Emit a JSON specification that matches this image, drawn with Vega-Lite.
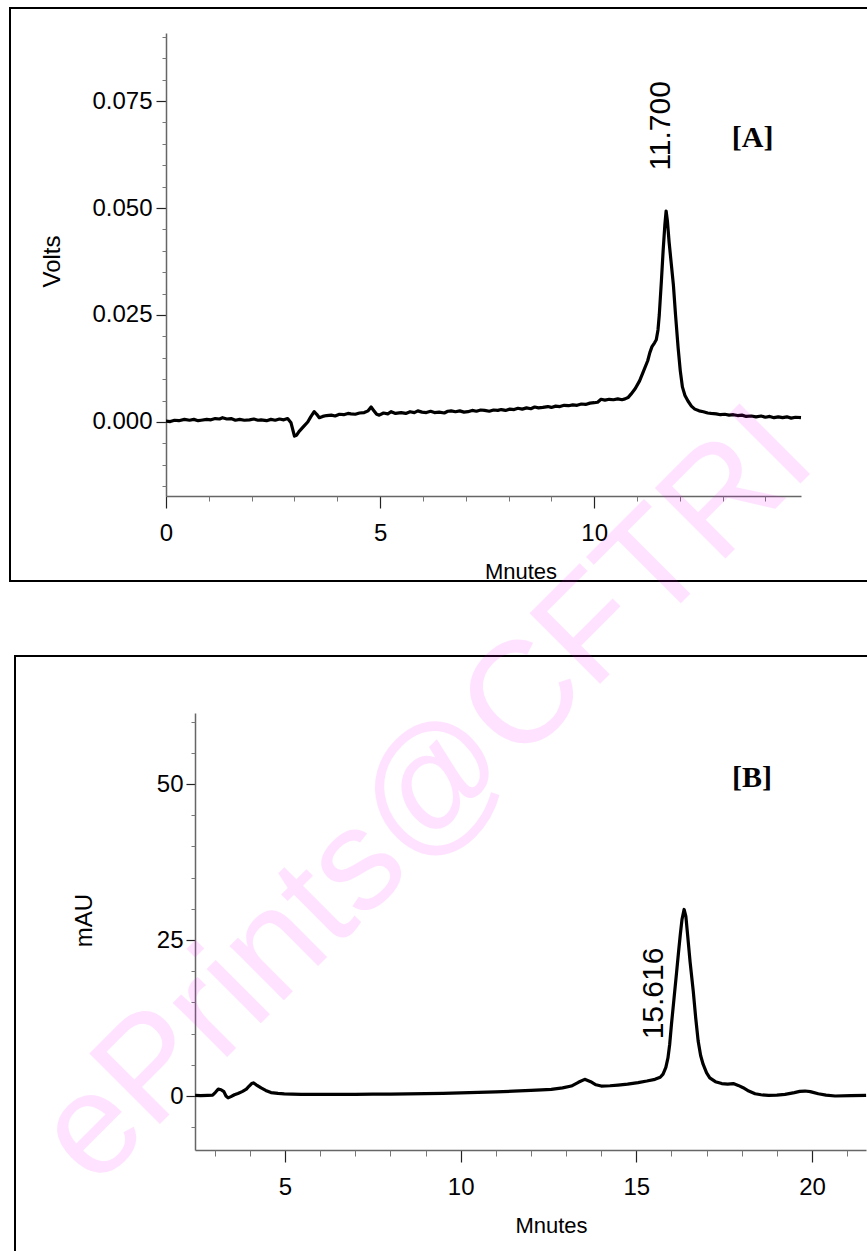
{
  "$schema": "https://vega.github.io/schema/vega-lite/v6.json",
  "padding": {"left": 9, "top": 7, "right": 0, "bottom": 0},
  "background": "white",
  "spacing": 75,
  "bounds": "flush",
  "center": true,
  "config": {
    "view": {"stroke": "black", "strokeWidth": 2},
    "font": "Liberation Sans",
    "axis": {"grid": false, "labelColor": "black", "titleColor": "black", "labelFlush": false, "labelOverlap": false, "titleFontWeight": "normal"}
  },
  "vconcat": [
    {
      "width": 868,
      "height": 573,
      "resolve": {"axis": {"x": "independent", "y": "independent"}},
      "layer": [
        {
          "data": {"values": [
            {"t": 0.0, "v": 0.0002}, {"t": 0.1, "v": 0.0001}, {"t": 0.2, "v": 0.0004}, {"t": 0.3, "v": 0.0003}, {"t": 0.43, "v": 0.0006},
            {"t": 0.55, "v": 0.0004}, {"t": 0.65, "v": 0.0006}, {"t": 0.75, "v": 0.0003}, {"t": 0.82, "v": 0.0004}, {"t": 0.95, "v": 0.0006},
            {"t": 1.05, "v": 0.0005}, {"t": 1.15, "v": 0.0008}, {"t": 1.25, "v": 0.0007}, {"t": 1.32, "v": 0.001}, {"t": 1.42, "v": 0.0007},
            {"t": 1.52, "v": 0.0008}, {"t": 1.62, "v": 0.0004}, {"t": 1.72, "v": 0.0006}, {"t": 1.83, "v": 0.0004}, {"t": 1.95, "v": 0.0005},
            {"t": 2.05, "v": 0.0007}, {"t": 2.15, "v": 0.0004}, {"t": 2.22, "v": 0.0005}, {"t": 2.35, "v": 0.0003}, {"t": 2.45, "v": 0.0006},
            {"t": 2.55, "v": 0.0004}, {"t": 2.65, "v": 0.0007}, {"t": 2.75, "v": 0.0005}, {"t": 2.84, "v": 0.0008}, {"t": 2.92, "v": -0.0002},
            {"t": 3.0, "v": -0.0033}, {"t": 3.05, "v": -0.0031}, {"t": 3.11, "v": -0.0022}, {"t": 3.2, "v": -0.0012}, {"t": 3.31, "v": 0.0},
            {"t": 3.38, "v": 0.0012}, {"t": 3.46, "v": 0.0024}, {"t": 3.52, "v": 0.0018}, {"t": 3.58, "v": 0.001}, {"t": 3.66, "v": 0.0013},
            {"t": 3.75, "v": 0.0015}, {"t": 3.86, "v": 0.0016}, {"t": 3.95, "v": 0.0014}, {"t": 4.05, "v": 0.0018}, {"t": 4.15, "v": 0.0017},
            {"t": 4.25, "v": 0.002}, {"t": 4.32, "v": 0.0019}, {"t": 4.42, "v": 0.0018}, {"t": 4.52, "v": 0.0021}, {"t": 4.63, "v": 0.0022},
            {"t": 4.72, "v": 0.0026}, {"t": 4.79, "v": 0.0035}, {"t": 4.85, "v": 0.0027}, {"t": 4.92, "v": 0.0018}, {"t": 4.98, "v": 0.0016},
            {"t": 5.08, "v": 0.0021}, {"t": 5.18, "v": 0.0019}, {"t": 5.26, "v": 0.0024}, {"t": 5.36, "v": 0.002}, {"t": 5.49, "v": 0.0022},
            {"t": 5.6, "v": 0.002}, {"t": 5.7, "v": 0.0024}, {"t": 5.8, "v": 0.0022}, {"t": 5.88, "v": 0.0026}, {"t": 5.98, "v": 0.0023},
            {"t": 6.08, "v": 0.0022}, {"t": 6.18, "v": 0.0025}, {"t": 6.27, "v": 0.0022}, {"t": 6.38, "v": 0.0023}, {"t": 6.5, "v": 0.0021},
            {"t": 6.58, "v": 0.0025}, {"t": 6.66, "v": 0.0026}, {"t": 6.76, "v": 0.0024}, {"t": 6.86, "v": 0.0026}, {"t": 6.96, "v": 0.0023},
            {"t": 7.05, "v": 0.0024}, {"t": 7.15, "v": 0.0027}, {"t": 7.25, "v": 0.0025}, {"t": 7.35, "v": 0.0028}, {"t": 7.44, "v": 0.0027},
            {"t": 7.55, "v": 0.0025}, {"t": 7.65, "v": 0.0028}, {"t": 7.75, "v": 0.0027}, {"t": 7.83, "v": 0.0029}, {"t": 7.93, "v": 0.0027},
            {"t": 8.03, "v": 0.003}, {"t": 8.13, "v": 0.0029}, {"t": 8.22, "v": 0.0032}, {"t": 8.32, "v": 0.003}, {"t": 8.42, "v": 0.0033},
            {"t": 8.52, "v": 0.0031}, {"t": 8.61, "v": 0.0035}, {"t": 8.7, "v": 0.0033}, {"t": 8.8, "v": 0.0034}, {"t": 8.92, "v": 0.0036},
            {"t": 9.0, "v": 0.0034}, {"t": 9.1, "v": 0.0037}, {"t": 9.2, "v": 0.0036}, {"t": 9.3, "v": 0.0039}, {"t": 9.4, "v": 0.0038},
            {"t": 9.5, "v": 0.004}, {"t": 9.6, "v": 0.0039}, {"t": 9.7, "v": 0.0042}, {"t": 9.8, "v": 0.0041}, {"t": 9.9, "v": 0.0044},
            {"t": 10.0, "v": 0.0045}, {"t": 10.08, "v": 0.0046}, {"t": 10.16, "v": 0.0053}, {"t": 10.25, "v": 0.0051}, {"t": 10.35, "v": 0.0053},
            {"t": 10.45, "v": 0.0052}, {"t": 10.55, "v": 0.0054}, {"t": 10.65, "v": 0.0052}, {"t": 10.72, "v": 0.0054}, {"t": 10.79, "v": 0.0057},
            {"t": 10.86, "v": 0.0065}, {"t": 10.96, "v": 0.0078}, {"t": 11.06, "v": 0.0096}, {"t": 11.15, "v": 0.0118}, {"t": 11.25, "v": 0.0143},
            {"t": 11.3, "v": 0.0162}, {"t": 11.35, "v": 0.0176}, {"t": 11.41, "v": 0.0185}, {"t": 11.45, "v": 0.0192}, {"t": 11.49, "v": 0.0215},
            {"t": 11.52, "v": 0.025}, {"t": 11.57, "v": 0.033}, {"t": 11.61, "v": 0.04}, {"t": 11.65, "v": 0.046}, {"t": 11.68, "v": 0.0493},
            {"t": 11.71, "v": 0.047}, {"t": 11.75, "v": 0.042}, {"t": 11.8, "v": 0.037}, {"t": 11.85, "v": 0.032}, {"t": 11.9, "v": 0.025},
            {"t": 11.96, "v": 0.0174}, {"t": 12.01, "v": 0.012}, {"t": 12.06, "v": 0.0082}, {"t": 12.12, "v": 0.0062}, {"t": 12.19, "v": 0.0049},
            {"t": 12.27, "v": 0.0037}, {"t": 12.35, "v": 0.003}, {"t": 12.45, "v": 0.0026}, {"t": 12.55, "v": 0.0024}, {"t": 12.65, "v": 0.0021},
            {"t": 12.73, "v": 0.002}, {"t": 12.85, "v": 0.0019}, {"t": 12.95, "v": 0.0017}, {"t": 13.05, "v": 0.0018}, {"t": 13.15, "v": 0.0016},
            {"t": 13.25, "v": 0.0017}, {"t": 13.35, "v": 0.0015}, {"t": 13.45, "v": 0.0016}, {"t": 13.55, "v": 0.0013}, {"t": 13.67, "v": 0.0014},
            {"t": 13.78, "v": 0.0012}, {"t": 13.9, "v": 0.0014}, {"t": 14.0, "v": 0.0011}, {"t": 14.1, "v": 0.0013}, {"t": 14.2, "v": 0.001},
            {"t": 14.3, "v": 0.0012}, {"t": 14.4, "v": 0.001}, {"t": 14.5, "v": 0.0012}, {"t": 14.6, "v": 0.0009}, {"t": 14.7, "v": 0.0011},
            {"t": 14.83, "v": 0.001}
          ]},
          "mark": {"type": "line", "color": "black", "strokeWidth": 3.2, "strokeJoin": "round"},
          "encoding": {
            "x": {"field": "t", "type": "quantitative",
              "scale": {"domain": [0, 14.83], "range": [156, 791], "nice": false, "zero": false},
              "axis": {"orient": "bottom", "offset": -85, "values": [0, 5, 10], "tickSize": 12, "tickColor": "#222", "tickWidth": 1.2,
                "domainColor": "#666", "domainWidth": 1.5, "labelFont": "Liberation Sans", "labelFontSize": 24, "labelPadding": 13,
                "title": "Mnutes", "titleFont": "Liberation Sans", "titleFontSize": 22, "titleX": 510.5, "titleY": 82,
                "titleBaseline": "alphabetic", "titleAlign": "center", "titleAngle": 0}},
            "y": {"field": "v", "type": "quantitative",
              "scale": {"domain": [-0.0173, 0.0909], "range": [488, 25], "nice": false, "zero": false},
              "axis": {"orient": "left", "offset": -156, "values": [0, 0.025, 0.05, 0.075], "format": ".3f", "tickSize": 10, "tickColor": "#222", "tickWidth": 1.2,
                "domainColor": "#666", "domainWidth": 1.5, "labelFont": "Liberation Sans", "labelFontSize": 24, "labelPadding": 4,
                "title": "Volts", "titleFont": "Liberation Sans", "titleFontSize": 24, "titleX": -114, "titleY": 253,
                "titleAngle": 270, "titleBaseline": "middle", "titleAlign": "center"}}
          }
        },
        {
          "data": {"values": [{"t": 11.57, "v": 0.0692, "label": "11.700"}]},
          "mark": {"type": "text", "angle": 270, "fontSize": 30, "font": "Liberation Sans", "align": "center", "baseline": "middle", "color": "black"},
          "encoding": {
            "x": {"field": "t", "type": "quantitative",
              "axis": {"orient": "bottom", "offset": -85, "values": [1, 2, 3, 4, 6, 7, 8, 9, 11, 12, 13, 14], "tickSize": 5, "tickColor": "#777",
                "labels": false, "domain": false, "title": null}},
            "y": {"field": "v", "type": "quantitative",
              "axis": {"orient": "left", "offset": -156, "values": [-0.015, -0.01, -0.005, 0.005, 0.01, 0.015, 0.02, 0.03, 0.035, 0.04, 0.045, 0.055, 0.06, 0.065, 0.07, 0.08, 0.085, 0.09],
                "tickSize": 4, "tickColor": "#777", "labels": false, "domain": false, "title": null}},
            "text": {"field": "label"}
          }
        },
        {
          "data": {"values": [{"t": 13.7, "v": 0.0664, "label": "[A]"}]},
          "mark": {"type": "text", "fontSize": 30, "font": "Liberation Serif", "fontWeight": "bold", "align": "center", "baseline": "middle", "color": "black"},
          "encoding": {
            "x": {"field": "t", "type": "quantitative", "axis": null},
            "y": {"field": "v", "type": "quantitative", "axis": null},
            "text": {"field": "label"}
          }
        }
      ]
    },
    {
      "width": 858,
      "height": 600,
      "resolve": {"axis": {"x": "independent", "y": "independent"}},
      "layer": [
        {
          "data": {"values": [{"t": 9.01, "v": 48.1, "label": "ePrints@CFTRI"}]},
          "mark": {"type": "text", "angle": 315, "fontSize": 145, "font": "Liberation Sans", "align": "center", "baseline": "middle", "color": "#ff00ff", "opacity": 0.11},
          "encoding": {
            "x": {"field": "t", "type": "quantitative", "axis": null},
            "y": {"field": "v", "type": "quantitative", "axis": null},
            "text": {"field": "label"}
          }
        },
        {
          "data": {"values": [
            {"t": 2.44, "v": 0.1}, {"t": 2.6, "v": 0.05}, {"t": 2.8, "v": 0.1}, {"t": 2.94, "v": 0.15}, {"t": 3.02, "v": 0.6},
            {"t": 3.1, "v": 1.1}, {"t": 3.18, "v": 1.0}, {"t": 3.26, "v": 0.7}, {"t": 3.32, "v": 0.0}, {"t": 3.38, "v": -0.3},
            {"t": 3.46, "v": -0.1}, {"t": 3.56, "v": 0.2}, {"t": 3.66, "v": 0.4}, {"t": 3.78, "v": 0.7}, {"t": 3.9, "v": 1.1},
            {"t": 3.98, "v": 1.6}, {"t": 4.05, "v": 2.0}, {"t": 4.1, "v": 2.1}, {"t": 4.18, "v": 1.8}, {"t": 4.32, "v": 1.3},
            {"t": 4.45, "v": 0.9}, {"t": 4.6, "v": 0.55}, {"t": 4.8, "v": 0.42}, {"t": 4.98, "v": 0.35}, {"t": 5.2, "v": 0.3},
            {"t": 5.46, "v": 0.27}, {"t": 6.0, "v": 0.25}, {"t": 6.5, "v": 0.25}, {"t": 7.0, "v": 0.27}, {"t": 7.5, "v": 0.3},
            {"t": 8.0, "v": 0.32}, {"t": 8.5, "v": 0.35}, {"t": 9.0, "v": 0.38}, {"t": 9.5, "v": 0.42}, {"t": 10.0, "v": 0.5},
            {"t": 10.5, "v": 0.57}, {"t": 11.0, "v": 0.65}, {"t": 11.5, "v": 0.78}, {"t": 12.0, "v": 0.9}, {"t": 12.3, "v": 0.98},
            {"t": 12.58, "v": 1.07}, {"t": 12.9, "v": 1.3}, {"t": 13.15, "v": 1.6}, {"t": 13.35, "v": 2.2}, {"t": 13.53, "v": 2.67},
            {"t": 13.7, "v": 2.3}, {"t": 13.85, "v": 1.8}, {"t": 14.0, "v": 1.6}, {"t": 14.25, "v": 1.65}, {"t": 14.48, "v": 1.76},
            {"t": 14.75, "v": 1.9}, {"t": 15.05, "v": 2.14}, {"t": 15.3, "v": 2.4}, {"t": 15.53, "v": 2.67}, {"t": 15.68, "v": 3.0},
            {"t": 15.76, "v": 3.5}, {"t": 15.84, "v": 4.6}, {"t": 15.9, "v": 6.1}, {"t": 15.95, "v": 8.3}, {"t": 16.0, "v": 11.5},
            {"t": 16.07, "v": 15.5}, {"t": 16.14, "v": 19.5}, {"t": 16.2, "v": 23.0}, {"t": 16.25, "v": 25.8}, {"t": 16.3, "v": 28.3},
            {"t": 16.36, "v": 29.9}, {"t": 16.41, "v": 28.8}, {"t": 16.46, "v": 25.8}, {"t": 16.53, "v": 21.5}, {"t": 16.62, "v": 16.8},
            {"t": 16.69, "v": 12.5}, {"t": 16.76, "v": 8.8}, {"t": 16.83, "v": 6.5}, {"t": 16.9, "v": 5.1}, {"t": 17.0, "v": 3.7},
            {"t": 17.09, "v": 2.9}, {"t": 17.25, "v": 2.3}, {"t": 17.43, "v": 2.0}, {"t": 17.6, "v": 1.9}, {"t": 17.76, "v": 2.0},
            {"t": 17.9, "v": 1.7}, {"t": 18.04, "v": 1.33}, {"t": 18.2, "v": 0.8}, {"t": 18.38, "v": 0.37}, {"t": 18.55, "v": 0.2},
            {"t": 18.76, "v": 0.1}, {"t": 19.0, "v": 0.15}, {"t": 19.23, "v": 0.27}, {"t": 19.5, "v": 0.55}, {"t": 19.65, "v": 0.75},
            {"t": 19.8, "v": 0.8}, {"t": 19.95, "v": 0.7}, {"t": 20.18, "v": 0.37}, {"t": 20.4, "v": 0.15}, {"t": 20.66, "v": 0.0},
            {"t": 21.1, "v": 0.05}, {"t": 21.54, "v": 0.1}
          ]},
          "mark": {"type": "line", "color": "black", "strokeWidth": 3.2, "strokeJoin": "round"},
          "encoding": {
            "x": {"field": "t", "type": "quantitative",
              "scale": {"domain": [2.438, 21.537], "range": [180, 851], "nice": false, "zero": false},
              "axis": {"orient": "bottom", "offset": -106, "values": [5, 10, 15, 20], "tickSize": 12, "tickColor": "#222", "tickWidth": 1.2,
                "domainColor": "#666", "domainWidth": 1.5, "labelFont": "Liberation Sans", "labelFontSize": 24, "labelPadding": 13,
                "title": "Mnutes", "titleFont": "Liberation Sans", "titleFontSize": 22, "titleX": 536, "titleY": 82,
                "titleBaseline": "alphabetic", "titleAlign": "center", "titleAngle": 0}},
            "y": {"field": "v", "type": "quantitative",
              "scale": {"domain": [-8.65, 61.38], "range": [494, 57], "nice": false, "zero": false},
              "axis": {"orient": "left", "offset": -180, "values": [0, 25, 50], "tickSize": 9, "tickColor": "#222", "tickWidth": 1.2,
                "domainColor": "#666", "domainWidth": 1.5, "labelFont": "Liberation Sans", "labelFontSize": 24, "labelPadding": 3,
                "title": "mAU", "titleFont": "Liberation Sans", "titleFontSize": 24, "titleX": -110.5, "titleY": 264,
                "titleAngle": 270, "titleBaseline": "middle", "titleAlign": "center"}}
          }
        },
        {
          "data": {"values": [{"t": 15.49, "v": 16.43, "label": "15.616"}]},
          "mark": {"type": "text", "angle": 270, "fontSize": 30, "font": "Liberation Sans", "align": "center", "baseline": "middle", "color": "black"},
          "encoding": {
            "x": {"field": "t", "type": "quantitative",
              "axis": {"orient": "bottom", "offset": -106, "values": [3, 4, 6, 7, 8, 9, 11, 12, 13, 14, 16, 17, 18, 19, 21], "tickSize": 6, "tickColor": "#777",
                "labels": false, "domain": false, "title": null}},
            "y": {"field": "v", "type": "quantitative",
              "axis": {"orient": "left", "offset": -180, "values": [-5, 5, 10, 15, 20, 30, 35, 40, 45, 55, 60],
                "tickSize": 4, "tickColor": "#777", "labels": false, "domain": false, "title": null}},
            "text": {"field": "label"}
          }
        },
        {
          "data": {"values": [{"t": 18.29, "v": 50.96, "label": "[B]"}]},
          "mark": {"type": "text", "fontSize": 30, "font": "Liberation Serif", "fontWeight": "bold", "align": "center", "baseline": "middle", "color": "black"},
          "encoding": {
            "x": {"field": "t", "type": "quantitative", "axis": null},
            "y": {"field": "v", "type": "quantitative", "axis": null},
            "text": {"field": "label"}
          }
        }
      ]
    }
  ]
}
